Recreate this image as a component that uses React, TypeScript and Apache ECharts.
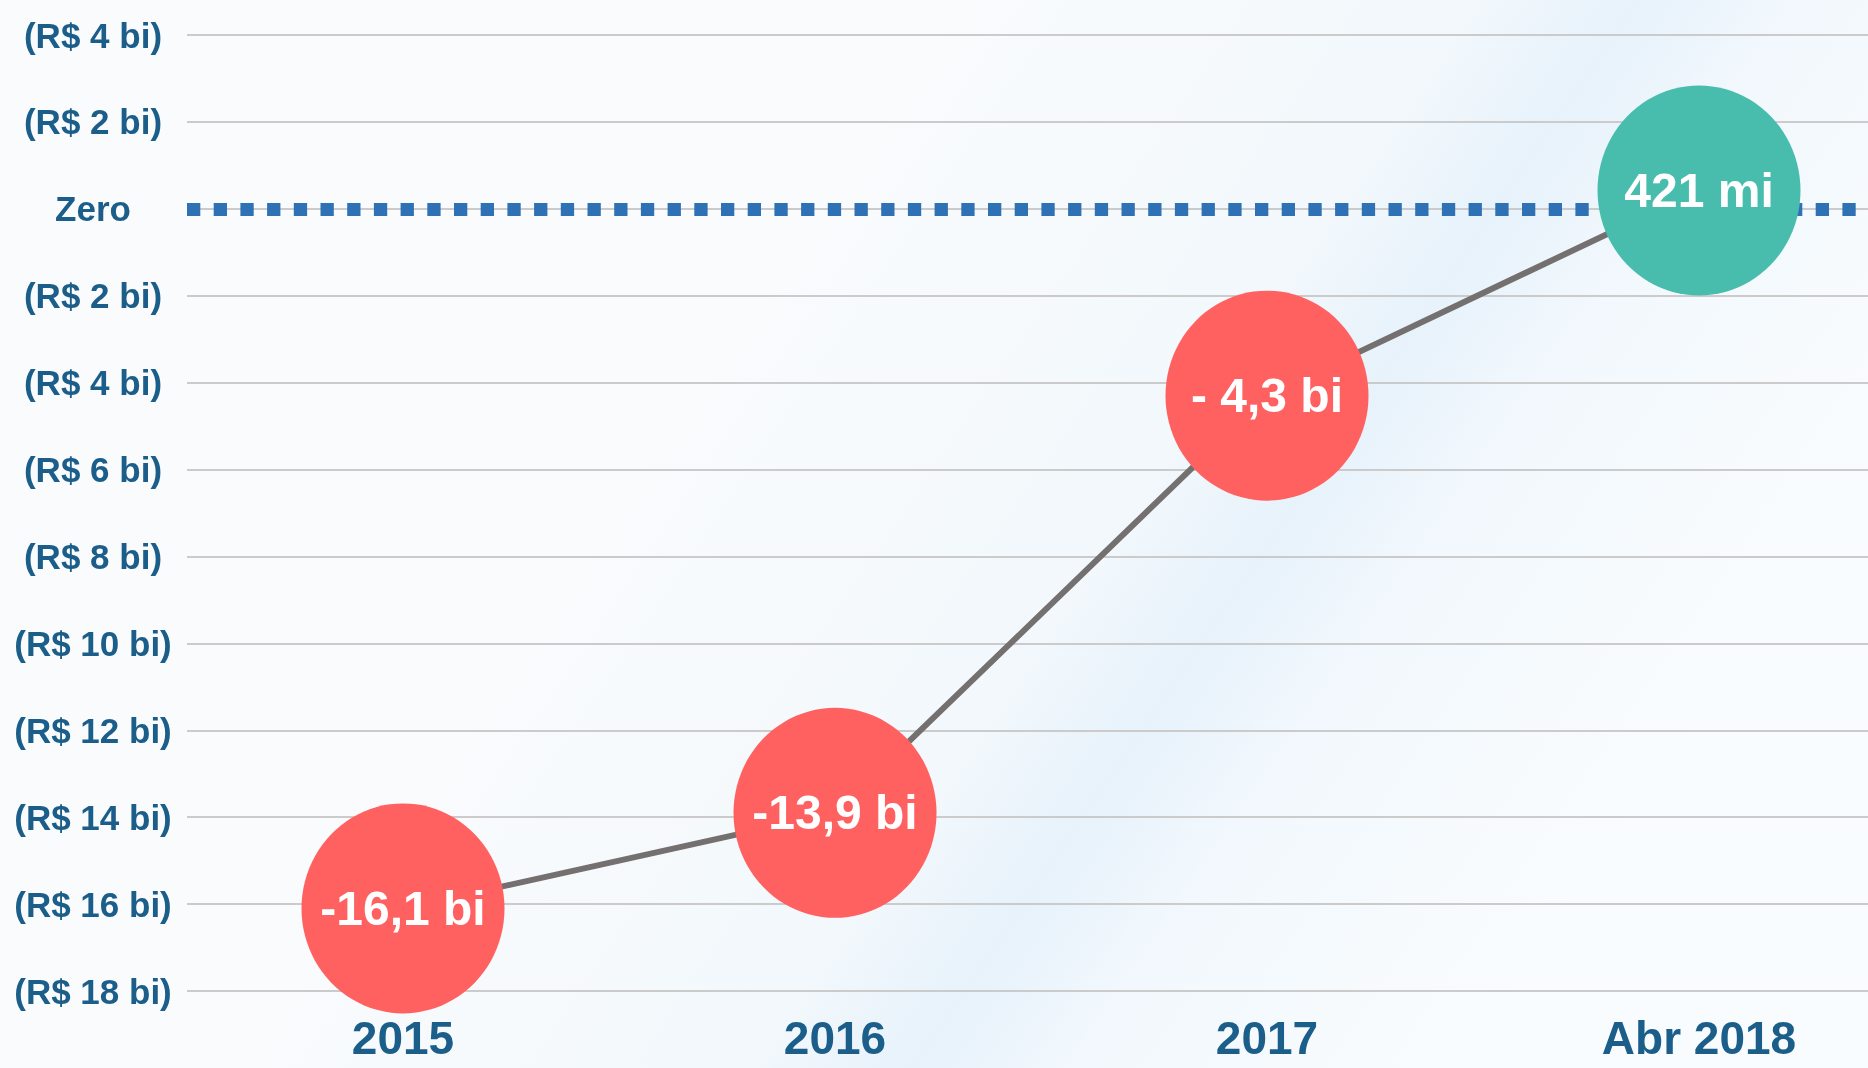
import React, { useEffect, useRef } from 'react';
import * as echarts from 'echarts';

const categories = ['2015', '2016', '2017', 'Abr 2018'];
const values = [-16.1, -13.9, -4.3, 0.421];
const bubbleLabels = ['-16,1 bi', '-13,9 bi', '- 4,3 bi', '421 mi'];
const yMin = -18;
const yMax = 4;
const yStep = 2;
const zeroLine = 0;

const FONT = '"Liberation Sans", Arial, sans-serif';
const BLUE_TEXT = '#1C5E8A';
const RED = '#FF6161';
const TEAL = '#48BDAE';

export default function App() {
  const ref = useRef<HTMLDivElement>(null);
  useEffect(() => {
    const chart = echarts.init(ref.current as HTMLDivElement, null, { renderer: 'svg' });
    chart.setOption({
      animation: false,
      graphic: [
        {
          type: 'rect',
          z: -10,
          silent: true,
          shape: { x: 0, y: 0, width: 1868, height: 1068 },
          style: {
            fill: new echarts.graphic.LinearGradient(
              800, 240, 1640, 810,
              [
                { offset: 0, color: '#F9FBFD' },
                { offset: 0.42, color: '#F2F8FC' },
                { offset: 0.55, color: '#E7F2FB' },
                { offset: 0.68, color: '#F2F8FD' },
                { offset: 1, color: '#F9FCFE' },
              ],
              true
            ),
          },
        },
      ],
      grid: {
        left: 187,
        top: 35,
        width: 1728,
        height: 956,
        containLabel: false,
        outerBoundsMode: 'none',
      },
      xAxis: {
        type: 'category',
        data: categories,
        boundaryGap: true,
        axisLine: { show: false },
        axisTick: { show: false },
        splitLine: { show: false },
        axisLabel: {
          fontSize: 46,
          fontWeight: 'bold',
          color: BLUE_TEXT,
          fontFamily: FONT,
          margin: 24,
        },
      },
      yAxis: {
        type: 'value',
        min: yMin,
        max: yMax,
        interval: yStep,
        axisLine: { show: false },
        axisTick: { show: false },
        axisLabel: {
          formatter: (v: number) => (v === 0 ? 'Zero' : `(R$ ${Math.abs(v)} bi)`),
          fontSize: 35,
          fontWeight: 'bold',
          color: BLUE_TEXT,
          fontFamily: FONT,
          align: 'center',
          margin: 94,
        },
        splitLine: { lineStyle: { color: '#CBCBCB', width: 2 } },
      },
      series: [
        {
          type: 'line',
          z: 1,
          data: [],
          silent: true,
          markLine: {
            z: 1,
            silent: true,
            symbol: 'none',
            label: { show: false },
            lineStyle: { color: '#2E72B5', width: 13, type: [13.3, 13.4], cap: 'butt' },
            data: [{ yAxis: zeroLine }],
          },
        },
        {
          type: 'line',
          z: 10,
          symbol: 'circle',
          symbolSize: [203, 210],
          lineStyle: { color: '#757070', width: 6 },
          data: values.map((v) => ({
            value: v,
            itemStyle: { color: v >= 0 ? TEAL : RED, borderWidth: 0 },
          })),
          label: {
            show: true,
            position: 'inside',
            formatter: (p: any) => bubbleLabels[p.dataIndex],
            color: '#FFFFFF',
            fontSize: 48,
            fontWeight: 'bold',
            fontFamily: FONT,
          },
        },
      ],
    });
    return () => chart.dispose();
  }, []);
  return (
    <div
      ref={ref}
      style={{ position: 'fixed', left: 0, top: 0, width: 1868, height: 1068 }}
    />
  );
}
